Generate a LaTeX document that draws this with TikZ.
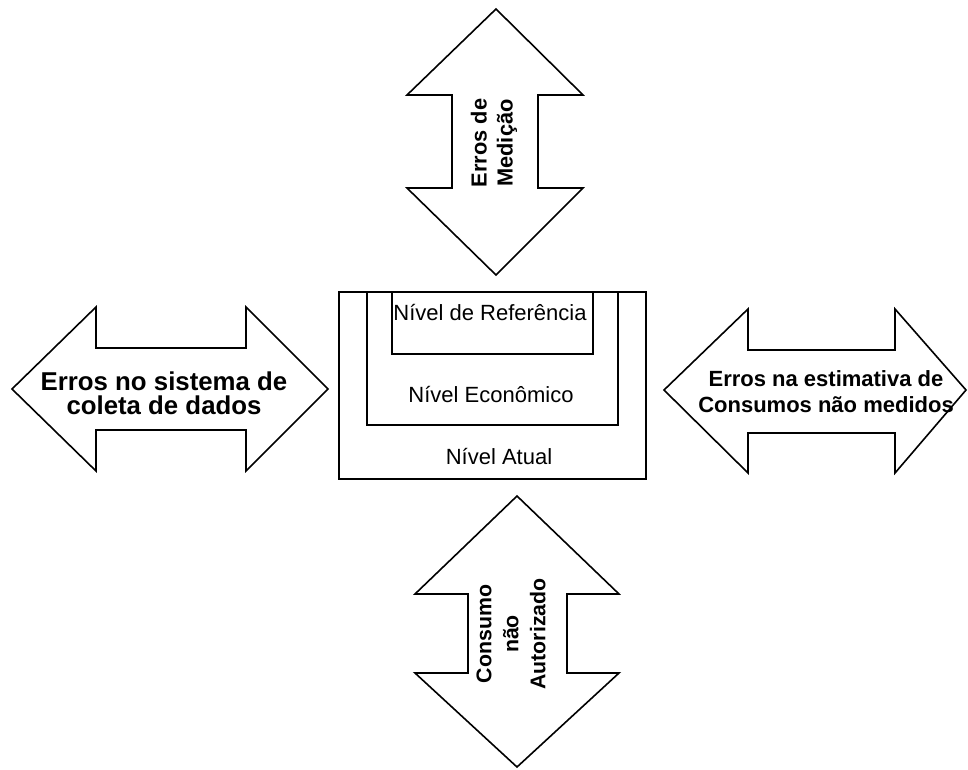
\documentclass[tikz,border=0pt]{standalone}
\usepackage{fontspec}
\setmainfont{Liberation Sans}
\begin{document}
\begin{tikzpicture}[x=1pt,y=-1pt,
  shapeline/.style={draw=black,line width=1.6pt,line join=miter,fill=white},
  boxline/.style={draw=black,line width=1.6pt},
  levellabel/.style={inner sep=0pt,anchor=base,font=\fontsize{22}{26}\selectfont},
  arrowlabel/.style={inner sep=0pt,align=center,font=\bfseries}
]
\useasboundingbox (0,0) rectangle (968,769);
% top arrow
\draw[shapeline] (496,9) -- (583,95) -- (538,95) -- (538,188) -- (583,188) -- (496,275)
  -- (407,188) -- (452,188) -- (452,95) -- (407,95) -- cycle;
% bottom arrow
\draw[shapeline] (517,496) -- (619,594) -- (567,594) -- (567,673) -- (619,673) -- (517,767)
  -- (415,673) -- (468,673) -- (468,594) -- (415,594) -- cycle;
% left arrow
\draw[shapeline] (12,389) -- (96,307) -- (96,348) -- (246,348) -- (246,307) -- (328,389)
  -- (246,471) -- (246,430) -- (96,430) -- (96,471) -- cycle;
% right arrow
\draw[shapeline] (664,390) -- (748,309) -- (748,350) -- (895,350) -- (895,309) -- (966,390)
  -- (895,473) -- (895,433) -- (748,433) -- (748,473) -- cycle;
% level boxes
\draw[boxline] (339,292) rectangle (646,479);
\draw[boxline] (367,292) rectangle (618,425);
\draw[boxline] (392,292) rectangle (593,354);
\node[levellabel] (ref) at (490,320) {Nível de Referência};
\node[levellabel] (eco) at (491,402) {Nível Econômico};
\node[levellabel] (atual) at (499,464) {Nível Atual};
% arrow labels
\node[arrowlabel,font=\bfseries\fontsize{25.8}{24}\selectfont] (coleta) at (164,393)
  {Erros no sistema de\\coleta de dados};
\node[arrowlabel,font=\bfseries\fontsize{22}{26}\selectfont] (estim) at (826,392)
  {Erros na estimativa de\\Consumos não medidos};
\node[arrowlabel,rotate=90,font=\bfseries\fontsize{21.8}{26}\selectfont] (medicao) at (494,143)
  {Erros de\\Medição};
\node[arrowlabel,rotate=90,font=\bfseries\fontsize{21.3}{27}\selectfont] (consumo) at (511,634)
  {Consumo\\não\\Autorizado};
\end{tikzpicture}
\end{document}
